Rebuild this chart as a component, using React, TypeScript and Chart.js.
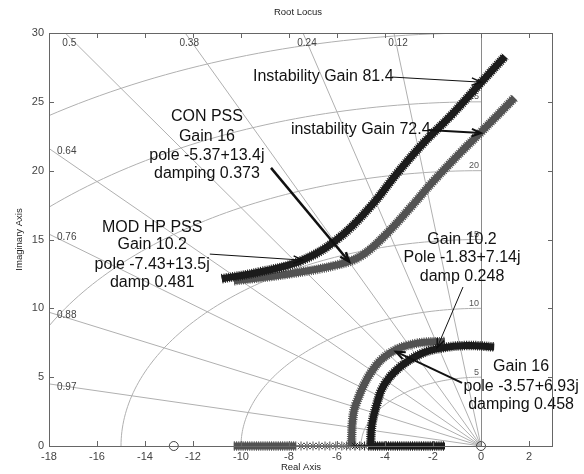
import React, { useEffect, useRef } from 'react';
import { Chart, registerables } from 'chart.js';
Chart.register(...registerables);

// ---- axis ticks ----
const xTicks = [-18, -16, -14, -12, -10, -8, -6, -4, -2, 0, 2];
const yTicks = [0, 5, 10, 15, 20, 25, 30];
const xMin = -18, xMax = 3, yMin = 0, yMax = 30;

// ---- s-grid ----
const dampingValues = [0.12, 0.24, 0.38, 0.5, 0.64, 0.76, 0.88, 0.97];
const wnValues = [5, 10, 15, 20, 25, 30];
const wnLabels = ['5', '10', '15', '20', '25'];

// ---- loci: MOD HP PSS (black) ----
const modUpperX = [-10.8, -9.2, -7.5, -6.0, -4.6, -3.5, -2.4, -1.2, 0, 1.0];
const modUpperY = [12.15, 12.65, 13.45, 15.0, 17.4, 19.8, 22.0, 24.1, 26.4, 28.3];
const modLowerX = [-4.6, -4.55, -4.35, -4.05, -3.4, -2.5, -1.7, -0.6, 0.55];
const modLowerY = [0, 1.5, 3.0, 4.4, 5.7, 6.7, 7.1, 7.3, 7.2];
const modRealX = [-4.7, -1.5];
const modRealMarksX = [-5.25, -5.05, -4.85];

// ---- loci: CON PSS (gray) ----
const conUpperX = [-10.3, -8.0, -6.0, -5.0, -4.0, -3.0, -2.0, -0.75, 0, 1.4];
const conUpperY = [12.0, 12.5, 13.15, 13.8, 15.3, 17.2, 19.2, 21.5, 22.8, 25.3];
const conLowerX = [-5.4, -5.35, -5.2, -4.6, -3.8, -2.7, -1.5];
const conLowerY = [0, 1.9, 3.1, 5.3, 6.75, 7.45, 7.6];
const conRealX = [-10.3, -7.7];
const conRealThinX = [-7.7, -4.7];
const conRealMarksX = [-7.5, -7.25, -7.0, -6.75, -6.5, -6.3, -6.05, -5.8, -5.6, -5.45];

// ---- zeros ----
const zerosX = [-12.8, 0];
const zerosY = [0, 0];

// ---- annotations ----
const textBlocks = [
  { x: -9.5, ys: [26.8], lines: ['Instability Gain 81.4'], align: 'left' },
  { x: -7.92, ys: [22.95], lines: ['instability Gain 72.4'], align: 'left' },
  { x: -11.42, ys: [23.9, 22.5, 21.1, 19.8], lines: ['CON PSS', 'Gain 16', 'pole -5.37+13.4j', 'damping 0.373'], align: 'center' },
  { x: -13.7, ys: [15.9, 14.6, 13.2, 11.9], lines: ['MOD HP PSS', 'Gain 10.2', 'pole -7.43+13.5j', 'damp 0.481'], align: 'center' },
  { x: -0.79, ys: [14.96, 13.65, 12.27], lines: ['Gain 10.2', 'Pole -1.83+7.14j', 'damp 0.248'], align: 'center' },
  { x: 1.67, ys: [5.74, 4.28, 2.98], lines: ['Gain 16', 'pole -3.57+6.93j', 'damping 0.458'], align: 'center' },
];
const arrows = [
  { from: [-3.71, 26.8], to: [0, 26.43], w: 1 },
  { from: [-2.2, 22.95], to: [0, 22.73], w: 2 },
  { from: [-8.75, 20.2], to: [-5.5, 13.4], w: 2.5 },
  { from: [-11.3, 13.94], to: [-7.43, 13.5], w: 1 },
  { from: [-0.75, 11.55], to: [-1.83, 7.14], w: 1 },
  { from: [-0.79, 4.58], to: [-3.55, 6.85], w: 2 },
];

const BLACK = '#1b1b1b';
const GRAY = '#525252';

function pts(xs: number[], ys: number[]) {
  return xs.map((x, i) => ({ x, y: ys[i] }));
}
function band(xs: number[], ys: number[], color: string) {
  const data = pts(xs, ys);
  return [
    { data, borderColor: color, borderWidth: 7, pointRadius: 0, tension: 0.4, clip: false, fill: false },
    { data, borderColor: color, borderWidth: 9.5, borderDash: [1, 1.2], pointRadius: 0, tension: 0.4, clip: false, fill: false },
  ];
}

const gridPlugin = {
  id: 'sgrid',
  beforeDatasetsDraw(chart: any) {
    const { ctx, chartArea: a, scales } = chart;
    const xs = scales.x, ys = scales.y;
    const px = (v: number) => xs.getPixelForValue(v);
    const py = (v: number) => ys.getPixelForValue(v);
    ctx.save();
    ctx.beginPath();
    ctx.rect(a.left, a.top, a.right - a.left, a.bottom - a.top);
    ctx.clip();
    ctx.strokeStyle = '#b0b0b0';
    ctx.lineWidth = 1;
    dampingValues.forEach((z) => {
      const s = Math.sqrt(1 - z * z);
      ctx.beginPath();
      ctx.moveTo(px(0), py(0));
      ctx.lineTo(px(-z * 100), py(s * 100));
      ctx.stroke();
    });
    wnValues.forEach((r) => {
      ctx.beginPath();
      for (let d = 90; d <= 180; d += 1) {
        const t = (d * Math.PI) / 180;
        const X = px(r * Math.cos(t));
        const Y = py(r * Math.sin(t));
        if (d === 90) ctx.moveTo(X, Y); else ctx.lineTo(X, Y);
      }
      ctx.stroke();
    });
    ctx.strokeStyle = '#8a8a8a';
    ctx.beginPath();
    ctx.moveTo(px(0) + 0.5, a.top);
    ctx.lineTo(px(0) + 0.5, a.bottom);
    ctx.stroke();
    ctx.restore();

    ctx.save();
    ctx.fillStyle = '#444';
    ctx.font = '10px "Liberation Sans", Arial, sans-serif';
    ctx.textBaseline = 'middle';
    dampingValues.forEach((z) => {
      const s = Math.sqrt(1 - z * z);
      const xi = (-yMax * z) / s;
      if (xi >= xMin) {
        ctx.textAlign = 'center';
        ctx.fillText(String(z), px(xi) + 4, a.top + 10);
      } else {
        const yi = (-xMin * s) / z;
        ctx.textAlign = 'left';
        ctx.fillText(String(z), a.left + 8, py(yi) + 3);
      }
    });
    ctx.font = '9px "Liberation Sans", Arial, sans-serif';
    ctx.textAlign = 'right';
    ctx.fillStyle = '#555';
    wnLabels.forEach((lab, i) => {
      ctx.fillText(lab, px(0) - 2, py(wnValues[i]) - 5);
    });
    ctx.restore();
  },
  afterDatasetsDraw(chart: any) {
    const { ctx, scales } = chart;
    const px = (v: number) => scales.x.getPixelForValue(v);
    const py = (v: number) => scales.y.getPixelForValue(v);
    ctx.save();
    ctx.fillStyle = '#111';
    ctx.font = '16px "Liberation Sans", Arial, sans-serif';
    ctx.textBaseline = 'middle';
    textBlocks.forEach((b) => {
      ctx.textAlign = b.align as CanvasTextAlign;
      b.lines.forEach((l, i) => ctx.fillText(l, px(b.x), py(b.ys[i])));
    });
    ctx.strokeStyle = '#111';
    arrows.forEach((ar) => {
      const x1 = px(ar.from[0]), y1 = py(ar.from[1]);
      const x2 = px(ar.to[0]), y2 = py(ar.to[1]);
      ctx.lineWidth = ar.w;
      ctx.beginPath();
      ctx.moveTo(x1, y1);
      ctx.lineTo(x2, y2);
      ctx.stroke();
      const ang = Math.atan2(y2 - y1, x2 - x1);
      const L = 10, spread = 0.38;
      ctx.lineWidth = Math.max(1.5, ar.w);
      ctx.beginPath();
      ctx.moveTo(x2 - L * Math.cos(ang - spread), y2 - L * Math.sin(ang - spread));
      ctx.lineTo(x2, y2);
      ctx.lineTo(x2 - L * Math.cos(ang + spread), y2 - L * Math.sin(ang + spread));
      ctx.stroke();
    });
    ctx.restore();
  },
  afterDraw(chart: any) {
    const { ctx, chartArea: a, scales } = chart;
    const px = (v: number) => scales.x.getPixelForValue(v);
    const py = (v: number) => scales.y.getPixelForValue(v);
    ctx.save();
    ctx.strokeStyle = '#666';
    ctx.lineWidth = 1;
    ctx.strokeRect(a.left + 0.5, a.top + 0.5, a.right - a.left - 1, a.bottom - a.top);
    ctx.beginPath();
    xTicks.forEach((v) => {
      const X = Math.round(px(v)) + 0.5;
      ctx.moveTo(X, a.bottom); ctx.lineTo(X, a.bottom - 5);
      ctx.moveTo(X, a.top); ctx.lineTo(X, a.top + 5);
    });
    yTicks.forEach((v) => {
      const Y = Math.round(py(v)) + 0.5;
      ctx.moveTo(a.left, Y); ctx.lineTo(a.left + 5, Y);
      ctx.moveTo(a.right, Y); ctx.lineTo(a.right - 5, Y);
    });
    ctx.stroke();
    ctx.fillStyle = '#222';
    ctx.font = '9.5px "Liberation Sans", Arial, sans-serif';
    ctx.textAlign = 'center';
    ctx.textBaseline = 'middle';
    ctx.fillText('Root Locus', 298, 12);
    ctx.fillText('Real Axis', (a.left + a.right) / 2, 467);
    ctx.translate(19, (a.top + a.bottom) / 2);
    ctx.rotate(-Math.PI / 2);
    ctx.fillText('Imaginary Axis', 0, 0);
    ctx.restore();
  },
};

export default function App() {
  const ref = useRef<HTMLCanvasElement>(null);
  useEffect(() => {
    if (!ref.current) return;
    const datasets: any[] = [
      ...band(modUpperX, modUpperY, BLACK),
      ...band(modLowerX, modLowerY, BLACK),
      ...band(modRealX, modRealX.map(() => 0), BLACK),
      { data: pts(modRealMarksX, modRealMarksX.map(() => 0)), showLine: false, pointStyle: 'star', pointRadius: 4.5, borderColor: BLACK, borderWidth: 1, clip: false },
      ...band(conUpperX, conUpperY, GRAY),
      ...band(conLowerX, conLowerY, GRAY),
      ...band(conRealX, conRealX.map(() => 0), GRAY),
      { data: pts(conRealThinX, conRealThinX.map(() => 0)), borderColor: '#777', borderWidth: 2, pointRadius: 0, clip: false },
      { data: pts(conRealMarksX, conRealMarksX.map(() => 0)), showLine: false, pointStyle: 'star', pointRadius: 4.5, borderColor: GRAY, borderWidth: 1, clip: false },
      { data: pts(zerosX, zerosY), showLine: false, pointStyle: 'circle', pointRadius: 4.5, borderColor: '#444', backgroundColor: 'rgba(0,0,0,0)', borderWidth: 1, clip: false },
    ];
    const chart = new Chart(ref.current, {
      type: 'line',
      data: { datasets },
      options: {
        animation: false,
        responsive: false,
        parsing: false,
        layout: { padding: { top: 33, right: 31, left: 0, bottom: 0 } },
        plugins: { legend: { display: false }, tooltip: { enabled: false }, title: { display: false } },
        scales: {
          x: {
            type: 'linear', min: xMin, max: xMax,
            grid: { display: false, drawTicks: false },
            border: { display: false },
            afterFit: (s: any) => { s.height = 28; },
            afterBuildTicks: (s: any) => { s.ticks = xTicks.map((v) => ({ value: v })); },
            ticks: { padding: 4, color: '#444', font: { family: '"Liberation Sans", Arial, sans-serif', size: 11 }, maxRotation: 0, autoSkip: false },
          },
          y: {
            type: 'linear', min: yMin, max: yMax,
            grid: { display: false, drawTicks: false },
            border: { display: false },
            afterFit: (s: any) => { s.width = 49; },
            afterBuildTicks: (s: any) => { s.ticks = yTicks.map((v) => ({ value: v })); },
            ticks: { padding: 5, color: '#444', font: { family: '"Liberation Sans", Arial, sans-serif', size: 11 }, autoSkip: false },
          },
        },
      },
      plugins: [gridPlugin],
    } as any);
    return () => chart.destroy();
  }, []);
  return (
    <div style={{ position: 'fixed', left: 0, top: 0, width: 584, height: 474, background: '#fff' }}>
      <canvas ref={ref} width={584} height={474} style={{ display: 'block' }} />
    </div>
  );
}
